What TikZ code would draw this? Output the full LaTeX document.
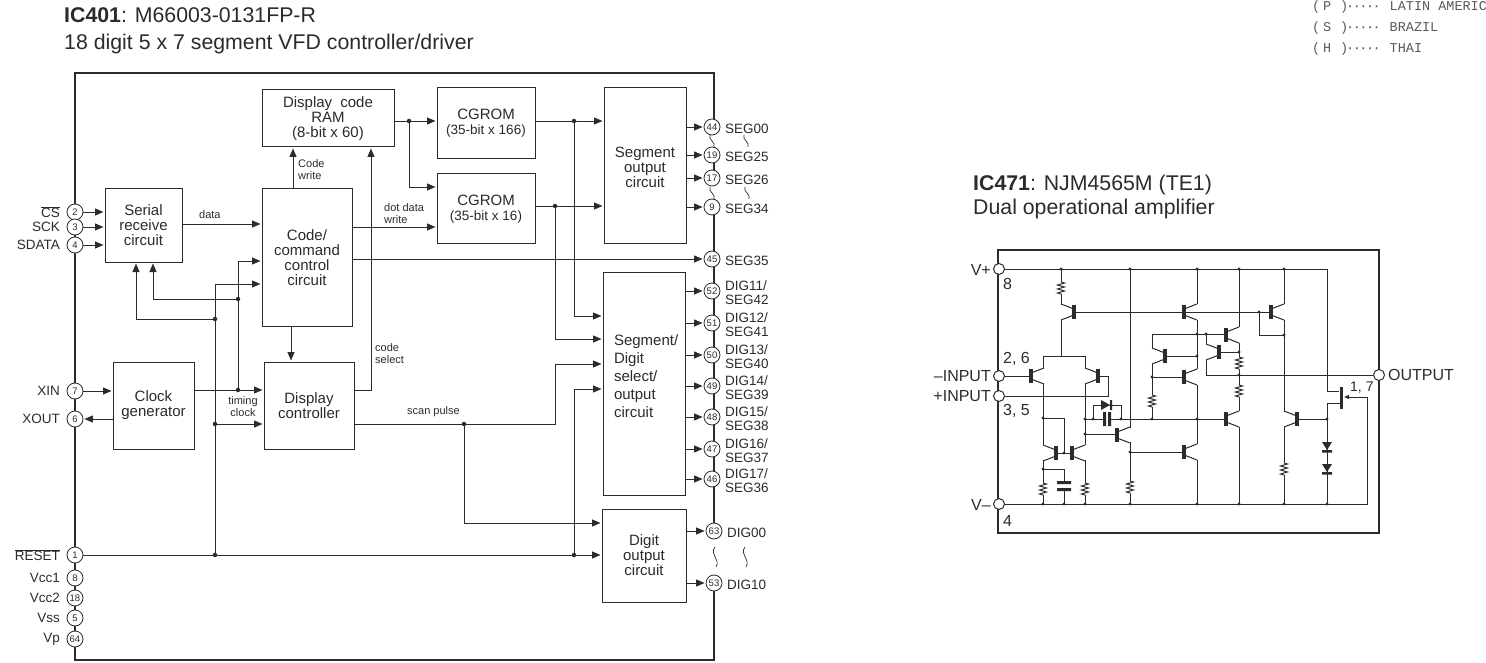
\documentclass[tikz,border=0pt]{standalone}
\usepackage{fontspec}
\setmainfont{Liberation Sans}
\setmonofont{Liberation Mono}
\usetikzlibrary{arrows.meta}

\definecolor{inkcol}{HTML}{2B2B2B}
\newcommand{\boxfont}{\fontsize{15}{15}\selectfont}
\newcommand{\pinfont}{\fontsize{13.5}{14.5}\selectfont}
\newcommand{\smallfont}{\fontsize{11}{12}\selectfont}
\newcommand{\titlefont}{\fontsize{21.3}{22}\selectfont}
\newcommand{\ampfont}{\fontsize{16}{16}\selectfont}
\newcommand{\leaderdots}{·\kern-1.5pt·\kern-1.5pt·\kern-1.5pt·\kern-1.5pt·}
\newcommand{\regionmark}[1]{\makebox[11pt][l]{(}\makebox[17pt][l]{#1}\makebox[6pt][l]{)}\leaderdots\hspace{9pt}}

\tikzset{
  blockbox/.style={draw=inkcol, line width=1pt, fill=white, inner sep=0pt, align=center, font=\boxfont, text=inkcol},
  pinnode/.style={circle, draw=inkcol, line width=0.8pt, fill=white, inner sep=0pt, minimum size=16pt, font=\fontsize{9.5}{9.5}\selectfont, text=inkcol},
  pinlabel/.style={inner sep=0pt, font=\pinfont, text=inkcol, align=left},
  smalllabel/.style={inner sep=0pt, font=\smallfont, text=inkcol, align=left, anchor=west},
  titletext/.style={inner sep=0pt, font=\titlefont, text=inkcol, anchor=base west},
  amplabel/.style={inner sep=0pt, font=\ampfont, text=inkcol},
  monotext/.style={inner sep=0pt, font=\ttfamily\fontsize{13.5}{13.5}\selectfont, text=black!65, anchor=base west},
  jdot/.style={circle, fill=inkcol, inner sep=0pt, minimum size=4.5pt},
  sig/.style={draw=inkcol, line width=0.9pt},
  sigarrow/.style={sig, -{Triangle[length=8.5pt,width=7pt]}, shorten >=1pt},
  chipline/.style={draw=inkcol, line width=2pt},
  wire/.style={draw=inkcol, line width=1pt},
  amppin/.style={circle, draw=inkcol, line width=1pt, fill=white, inner sep=0pt, minimum size=11pt},
}

\begin{document}
\begin{tikzpicture}[x=1pt, y=-1pt]

\useasboundingbox (0,0) rectangle (1486,663);

%% ── Titles ──────────────────────────────────────────────────────────────────
\node[titletext] (title401) at (64,23) {\textbf{IC401}: M66003-0131FP-R};
\node[titletext] (sub401) at (64,50) {18 digit 5 x 7 segment VFD controller/driver};
\node[titletext] (title471) at (973,191) {\textbf{IC471}: NJM4565M (TE1)};
\node[titletext] (sub471) at (973,215) {Dual operational amplifier};

%% Region list, top right
\node[monotext] (regionP) at (1312,11) {\regionmark{P}LATIN AMERIC};
\node[monotext] (regionS) at (1312,32) {\regionmark{S}BRAZIL};
\node[monotext] (regionH) at (1312,53) {\regionmark{H}THAI};

%% ── IC401 outline ───────────────────────────────────────────────────────────
\draw[chipline] (714,127) -- (714,73) -- (75,73) -- (75,660) -- (714,660) -- (714,583);
\draw[chipline] (714,155) -- (714,178);
\draw[chipline] (714,207) -- (714,531);

%% ── Blocks ──────────────────────────────────────────────────────────────────
\node[blockbox, minimum width=132pt, minimum height=57pt] (ram) at (328,118.5)
  {Display\hspace{4pt} code\\RAM\\(8-bit x 60)};
\node[blockbox, minimum width=77pt, minimum height=73pt] (serial) at (143.5,225.5)
  {Serial\\receive\\circuit};
\node[blockbox, minimum width=90pt, minimum height=137pt] (code) at (307,257.5)
  {Code/\\command\\control\\circuit};
\node[blockbox, minimum width=98pt, minimum height=71pt] (romA) at (486,123.5)
  {CGROM\\{\fontsize{13.5}{14}\selectfont (35-bit x 166)}};
\node[blockbox, minimum width=98pt, minimum height=70pt] (romB) at (486,209)
  {CGROM\\{\fontsize{13.5}{14}\selectfont (35-bit x 16)}};
\node[blockbox, minimum width=82pt, minimum height=156pt] (segout) at (645,166)
  {\mbox{}\\[-1pt]Segment\\output\\circuit};
\node[blockbox, minimum width=82pt, minimum height=223pt, text width=60pt, align=left,
      font=\fontsize{15}{18}\selectfont] (segdig) at (644,383.5)
  {Segment/\\Digit\\select/\\output\\circuit\\[-4pt]\mbox{}};
\node[blockbox, minimum width=84pt, minimum height=93pt] (digout) at (644,555.5)
  {Digit\\output\\circuit};
\node[blockbox, minimum width=81pt, minimum height=87pt] (clock) at (153.5,405.5)
  {Clock\\generator};
\node[blockbox, minimum width=90pt, minimum height=87pt] (disp) at (309,405.5)
  {Display\\controller};

%% ── Pins, left side ─────────────────────────────────────────────────────────
\foreach \n/\y/\t in {2/212/{$\overline{\mbox{CS}}$}, 3/227/SCK, 4/245/SDATA, 7/391/XIN, 6/419/XOUT,
    1/555/{$\overline{\mbox{RESET}}$}, 8/578/Vcc1, 18/598/Vcc2, 5/618/Vss, 64/639/Vp}{
  \node[pinnode] (p\n) at (75,\y) {\n};
  \node[pinlabel, anchor=east] (l\n) at (60,\y) {\t};
}

%% ── Pins, right side ────────────────────────────────────────────────────────
\foreach \n/\y/\t in {44/127/SEG00, 19/155/SEG25, 17/178/SEG26, 9/207/SEG34, 45/259/SEG35,
    52/291/{DIG11/\\SEG42}, 51/323/{DIG12/\\SEG41}, 50/355/{DIG13/\\SEG40},
    49/386/{DIG14/\\SEG39}, 48/417/{DIG15/\\SEG38}, 47/449/{DIG16/\\SEG37}, 46/479/{DIG17/\\SEG36}}{
  \node[pinnode] (p\n) at (712,\y) {\n};
  \node[pinlabel, anchor=west] (l\n) at (725,\y+1.5) {\t};
}
\foreach \n/\y/\t in {63/531/DIG00, 53/583/DIG10}{
  \node[pinnode] (p\n) at (714,\y) {\n};
  \node[pinlabel, anchor=west] (l\n) at (727,\y+1.5) {\t};
}

%% Break marks
\foreach \x/\y in {712/141, 746/141, 712/193, 747/193}{
  \draw[wire, line width=0.7pt] (\x-2,\y-6) .. controls (\x-4,\y-1) and (\x+4,\y+1) .. (\x+2,\y+6);
}
\foreach \x/\y in {715/557, 745/557}{
  \draw[wire, line width=0.7pt] (\x,\y-10) .. controls (\x-6,\y-2) and (\x+6,\y+2) .. (\x+1,\y+10);
}

%% ── Junctions ───────────────────────────────────────────────────────────────
\node[jdot] (jRam) at (409,121) {};
\node[jdot] (jRomA) at (574,121) {};
\node[jdot] (jRomB) at (555,206) {};
\node[jdot] (jClk) at (238,390) {};
\node[jdot] (jClkUp) at (238,299) {};
\node[jdot] (jRst) at (215,555) {};
\node[jdot] (jRstDisp) at (215,424) {};
\node[jdot] (jRstUp) at (215,319) {};
\node[jdot] (jRstSeg) at (574,555) {};
\node[jdot] (jScan) at (464,424) {};
\coordinate (cSel) at (371,390);
\coordinate (cScan) at (555,424);

%% ── Connectors ──────────────────────────────────────────────────────────────
\foreach \n in {2,3,4}{
  \draw[sigarrow] (p\n) -- (serial.west |- p\n);
}
\draw[sigarrow] (serial.east |- 0,224) -- (code.west |- 0,224);
\draw[sigarrow] (code.north -| 293,0) -- (ram.south -| 293,0);
\draw[sigarrow] (code.east |- 0,227) -- (romB.west |- 0,227);
\draw[sigarrow] (code.east |- 0,259) -- (p45);

\draw[sigarrow] (ram.east |- jRam) -- (romA.west |- jRam);
\draw[sigarrow] (jRam) |- (romB.west |- 0,187);
\draw[sigarrow] (romA.east |- jRomA) -- (segout.west |- jRomA);
\draw[sigarrow] (jRomA) |- (segdig.west |- 0,316);
\draw[sigarrow] (romB.east |- jRomB) -- (segout.west |- jRomB);
\draw[sigarrow] (jRomB) |- (segdig.west |- 0,339);

\draw[sigarrow] (p7) -- (clock.west |- p7);
\draw[sigarrow] (clock.west |- p6) -- (p6);
\draw[sigarrow] (clock.east |- jClk) -- (disp.west |- jClk);
\draw[sig] (jClk) -- (jClkUp);
\draw[sigarrow] (jClkUp) |- (code.west |- 0,261);
\draw[sigarrow] (jClkUp) -| (serial.south -| 153,0);

\draw[sig] (p1) -- (jRst);
\draw[sigarrow] (jRst) -- (digout.west |- jRst);
\draw[sig] (jRst) -- (jRstDisp);
\draw[sigarrow] (jRstDisp) -- (disp.west |- jRstDisp);
\draw[sig] (jRstDisp) -- (jRstUp);
\draw[sigarrow] (jRstUp) |- (code.west |- 0,284);
\draw[sigarrow] (jRstUp) -| (serial.south -| 136,0);
\draw[sigarrow] (jRstSeg) |- (segdig.west |- 0,389);

\draw[sigarrow] (disp.east |- cSel) -- (cSel) -- (ram.south -| cSel);
\draw[sig] (disp.east |- jScan) -- (jScan);
\draw[sigarrow] (jScan) -- (cScan) |- (segdig.west |- 0,364);
\draw[sigarrow] (jScan) |- (digout.west |- 0,523);
\draw[sigarrow] (code.south -| 291,0) -- (disp.north -| 291,0);

\foreach \n in {44,19,17,9}{
  \draw[sigarrow] (segout.east |- p\n) -- (p\n);
}
\foreach \n in {52,51,50,49,48,47,46}{
  \draw[sigarrow] (segdig.east |- p\n) -- (p\n);
}
\foreach \n in {63,53}{
  \draw[sigarrow] (digout.east |- p\n) -- (p\n);
}

%% ── Signal labels ───────────────────────────────────────────────────────────
\node[smalllabel] (tData) at (199,215) {data};
\node[smalllabel] (tWrite) at (298,170) {Code\\write};
\node[smalllabel] (tDot) at (384,214) {dot data\\write};
\node[smalllabel] (tSel) at (375,354) {code\\select};
\node[smalllabel, align=center, anchor=center] (tTim) at (243,406.5) {timing\\clock};
\node[smalllabel] (tScan) at (407,412) {scan pulse};

%% ── IC471 outline ───────────────────────────────────────────────────────────
\draw[chipline] (998,250) rectangle (1379,533);

%% ── Amplifier wiring ────────────────────────────────────────────────────────
\coordinate (cTop) at (1327,269);
\coordinate (cBot) at (1367,504);
\node[amppin] (pVp) at (999,269) {};
\node[amppin] (pIn) at (999,376) {};
\node[amppin] (pIp) at (999,396) {};
\node[amppin] (pVm) at (999,504) {};
\node[amppin] (pOut) at (1379,375) {};

\draw[wire] (pVp) -- (cTop) -- (1327,391) -- (1339,391);
\draw[wire] (pVm) -- (cBot) -- (1367,397);
\draw[wire, -{Triangle[length=5pt,width=4pt]}] (1367,397) -- (1344,397);
\draw[wire] (1340,403) -- (1327,403) -- (1327,504);
\draw[wire] (pIn) -- (1031,376);
\draw[wire] (1098,376) -- (1108,376) -- (1108,396) -- (pIp);
\draw[wire] (1206,360) -- (1206,375) -- (pOut);

\draw[wire] (1061,269) -- (1061,282) (1061,294) -- (1061,305) (1061,320) -- (1061,356);
\draw[wire] (1043,368) -- (1043,356) -- (1085,356) -- (1085,368);
\draw[wire] (1074,312) -- (1271,312);
\draw[wire] (1043,384) -- (1043,445) (1085,384) -- (1085,445);
\draw[wire] (1056,453) -- (1072,453) (1064,453) -- (1064,418) -- (1043,418);
\draw[wire] (1043,460) -- (1043,483) (1043,495) -- (1043,504);
\draw[wire] (1043,469) -- (1064,469) -- (1064,482) (1064,490) -- (1064,504);
\draw[wire] (1085,460) -- (1085,483) (1085,495) -- (1085,504);
\draw[wire] (1085,419) -- (1104,419) (1110,419) -- (1226,419);
\draw[wire] (1093,419) -- (1093,405) -- (1121,405) -- (1121,419);
\draw[wire] (1085,434) -- (1117,434);
\draw[wire] (1130,269) -- (1130,428) (1130,442) -- (1130,481) (1130,493) -- (1130,504);
\draw[wire] (1130,452) -- (1184,452);
\draw[wire] (1197,269) -- (1197,304) (1197,320) -- (1197,369) (1197,385) -- (1197,444) (1197,460) -- (1197,504);
\draw[wire] (1152,348) -- (1152,334) -- (1226,334);
\draw[wire] (1152,364) -- (1152,395) (1152,407) -- (1152,419);
\draw[wire] (1152,377) -- (1184,377) (1165,356) -- (1197,356);
\draw[wire] (1239,269) -- (1239,327) (1239,343) -- (1239,357) (1239,369) -- (1239,385) (1239,397) -- (1239,411) (1239,427) -- (1239,504);
\draw[wire] (1219,352) -- (1239,352);
\draw[wire] (1206,344) -- (1206,334);
\draw[wire] (1259,312) -- (1259,335) -- (1284,335);
\draw[wire] (1284,269) -- (1284,304) (1284,320) -- (1284,412) (1284,427) -- (1284,463) (1284,475) -- (1284,504);
\draw[wire] (1297,419) -- (1327,419);

%% Transistors
\foreach \x/\y/\d in {1074/312/-1, 1031/376/1, 1098/376/-1, 1056/453/-1, 1072/453/1, 1117/435/1,
    1184/312/1, 1184/377/1, 1184/452/1, 1165/356/-1, 1226/335/1, 1219/352/-1, 1271/312/1,
    1226/419/1, 1297/419/-1}{
  \fill[inkcol] (\x-1.8,\y-7) rectangle (\x+1.8,\y+7);
  \draw[wire] (\x,\y-3) -- (\x+\d*13,\y-8) (\x,\y+3) -- (\x+\d*13,\y+8);
}
\fill[inkcol] (1339.5,387) rectangle (1343,409);

%% Resistors
\foreach \x/\y in {1061/282, 1043/483, 1085/483, 1130/481, 1152/395, 1239/357, 1239/385, 1284/463}{
  \draw[wire] (\x,\y) -- ++(3.5,1) -- ++(-7,2) -- ++(7,2) -- ++(-7,2) -- ++(7,2) -- ++(-7,2) -- ++(3.5,1);
}

%% Capacitors
\fill[inkcol] (1057,481) rectangle (1071,484) (1057,488) rectangle (1071,491);
\fill[inkcol] (1103,412) rectangle (1106,426) (1108,412) rectangle (1111,426);

%% Diodes
\fill[inkcol] (1101,400) -- (1110,405) -- (1101,410) -- cycle (1110,400) rectangle (1112,410);
\foreach \y in {447,469}{
  \fill[inkcol] (1322,\y-5) -- (1332,\y-5) -- (1327,\y+3) -- cycle (1322,\y+3) rectangle (1332,\y+5.5);
}

%% Dots
\foreach \x in {1061,1130,1197,1239,1284}{
  \fill[inkcol] (\x,269) circle (1.7);
}
\foreach \x in {1043,1064,1085,1130,1197,1239,1284,1327}{
  \fill[inkcol] (\x,504) circle (1.7);
}
\foreach \x/\y in {1043/418, 1064/453, 1043/469, 1085/419, 1093/419, 1121/419, 1152/419, 1197/419,
    1085/434, 1130/452, 1152/377, 1197/356, 1197/334, 1206/334, 1239/352, 1239/375, 1259/312,
    1284/335, 1327/419}{
  \fill[inkcol] (\x,\y) circle (1.7);
}

%% Pin labels
\node[amplabel, anchor=east] (lVp) at (991,270) {V+};
\node[amplabel, anchor=west] (n8) at (1003,284) {8};
\node[amplabel, anchor=west] (n26) at (1003,359) {2, 6};
\node[amplabel, anchor=east] (lIn) at (991,376) {--INPUT};
\node[amplabel, anchor=east] (lIp) at (991,396) {+INPUT};
\node[amplabel, anchor=west] (n35) at (1003,411) {3, 5};
\node[amplabel, anchor=east] (lVm) at (991,505) {V--};
\node[amplabel, anchor=west] (n4) at (1003,521) {4};
\node[amplabel, anchor=west] (lOut) at (1388,375) {OUTPUT};
\node[amplabel, anchor=west, font=\fontsize{14}{14}\selectfont] (n17) at (1350,388) {1, 7};

\end{tikzpicture}
\end{document}
